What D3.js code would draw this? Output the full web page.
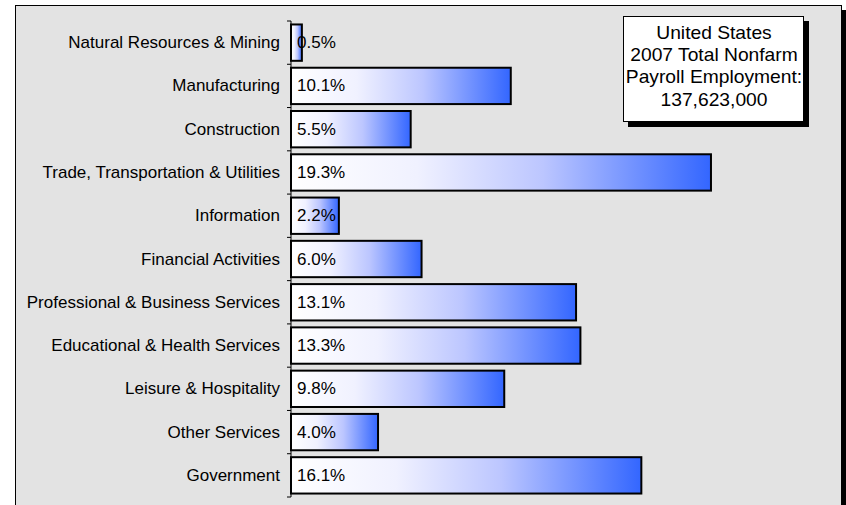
<!DOCTYPE html>
<html>
<head>
<meta charset="utf-8">
<script src="https://cdn.jsdelivr.net/npm/d3@7"></script>
<style>
  body { margin: 0; background: #fff; }
  svg { display: block; font-family: "Liberation Sans", Arial, sans-serif; }
</style>
</head>
<body>
<svg id="chart" width="846" height="505"></svg>
<script>
// industry share of 2007 nonfarm payroll employment (%)
const categories = [
  "Natural Resources & Mining", "Manufacturing", "Construction",
  "Trade, Transportation & Utilities", "Information", "Financial Activities",
  "Professional & Business Services", "Educational & Health Services",
  "Leisure & Hospitality", "Other Services", "Government"
];
const shares = [0.5, 10.1, 5.5, 19.3, 2.2, 6.0, 13.1, 13.3, 9.8, 4.0, 16.1];
const noteLines = ["United States", "2007 Total Nonfarm", "Payroll Employment:", "137,623,000"];

const svg = d3.select("#chart");

// gradient, white -> blue, per bar
const defs = svg.append("defs");
const grad = defs.append("linearGradient").attr("id", "barFill")
  .attr("x1", 0).attr("x2", 1).attr("y1", 0).attr("y2", 0);
[[0, "#ffffff"], [0.3, "#f0f1ff"], [0.6, "#bcc6ff"], [1, "#3366ff"]].forEach(s => {
  grad.append("stop").attr("offset", s[0]).attr("stop-color", s[1]);
});

// outer frame with shadow
svg.append("rect").attr("x", 19).attr("y", 10).attr("width", 827).attr("height", 520).attr("fill", "#000");
svg.append("rect").attr("x", 15.5).attr("y", 5.5).attr("width", 826).attr("height", 520)
  .attr("fill", "#e3e3e3").attr("stroke", "#000").attr("stroke-width", 1);

let x = d3.scaleLinear().domain([0, 25]).range([291, 835]);
let y = d3.scaleBand().domain(categories).range([21, 497]).paddingInner(0.16).paddingOuter(0.08);

// axis on the left with ticks between bands
const yAxis = svg.append("g").attr("transform", "translate(291,0)");
yAxis.append("line").attr("y1", 21).attr("y2", 497).attr("stroke", "#000");
const step = y.step();
d3.range(categories.length + 1).forEach(i => {
  let ty = 21 + i * step;
  yAxis.append("line").attr("x1", -4).attr("x2", 0).attr("y1", ty).attr("y2", ty).attr("stroke", "#000");
});

svg.append("g")
  .selectAll("text")
  .data(categories)
  .enter()
  .append("text")
  .attr("x", 280)
  .attr("y", d => 21 + (categories.indexOf(d) + 0.5) * step)
  .attr("text-anchor", "end")
  .attr("dominant-baseline", "central")
  .style("font-size", "17px")
  .text(d => d);

// bars
const rows = categories.map((c, i) => ({ name: c, value: shares[i] }));
const bandH = step * 0.84;

svg.append("g")
  .selectAll("rect")
  .data(rows)
  .enter()
  .append("rect")
  .attr("x", x(0))
  .attr("y", (d, i) => 21 + (i + 0.5) * step - bandH / 2)
  .attr("width", d => x(d.value) - x(0))
  .attr("height", bandH)
  .attr("fill", "url(#barFill)")
  .attr("stroke", "#000")
  .attr("stroke-width", 2);

svg.append("g")
  .selectAll("text")
  .data(rows)
  .enter()
  .append("text")
  .attr("x", x(0) + 6)
  .attr("y", (d, i) => 21 + (i + 0.5) * step)
  .attr("dominant-baseline", "central")
  .style("font-size", "17px")
  .text(d => d.value.toFixed(1) + "%");

// note box in the top right
const note = svg.append("g");
note.append("rect").attr("x", 628).attr("y", 21).attr("width", 181).attr("height", 106).attr("fill", "#000");
note.append("rect").attr("x", 623.5).attr("y", 16.5).attr("width", 180).attr("height", 105)
  .attr("fill", "#fff").attr("stroke", "#000").attr("stroke-width", 1);
note.append("g")
  .attr("transform", "translate(714,0) scale(1.1,1)")
  .selectAll("text")
  .data(noteLines)
  .enter()
  .append("text")
  .attr("x", 0)
  .attr("y", (d, i) => 32.5 + i * 22.3)
  .attr("text-anchor", "middle")
  .attr("dominant-baseline", "central")
  .style("font-size", "17.5px")
  .text(d => d);
</script>
</body>
</html>
